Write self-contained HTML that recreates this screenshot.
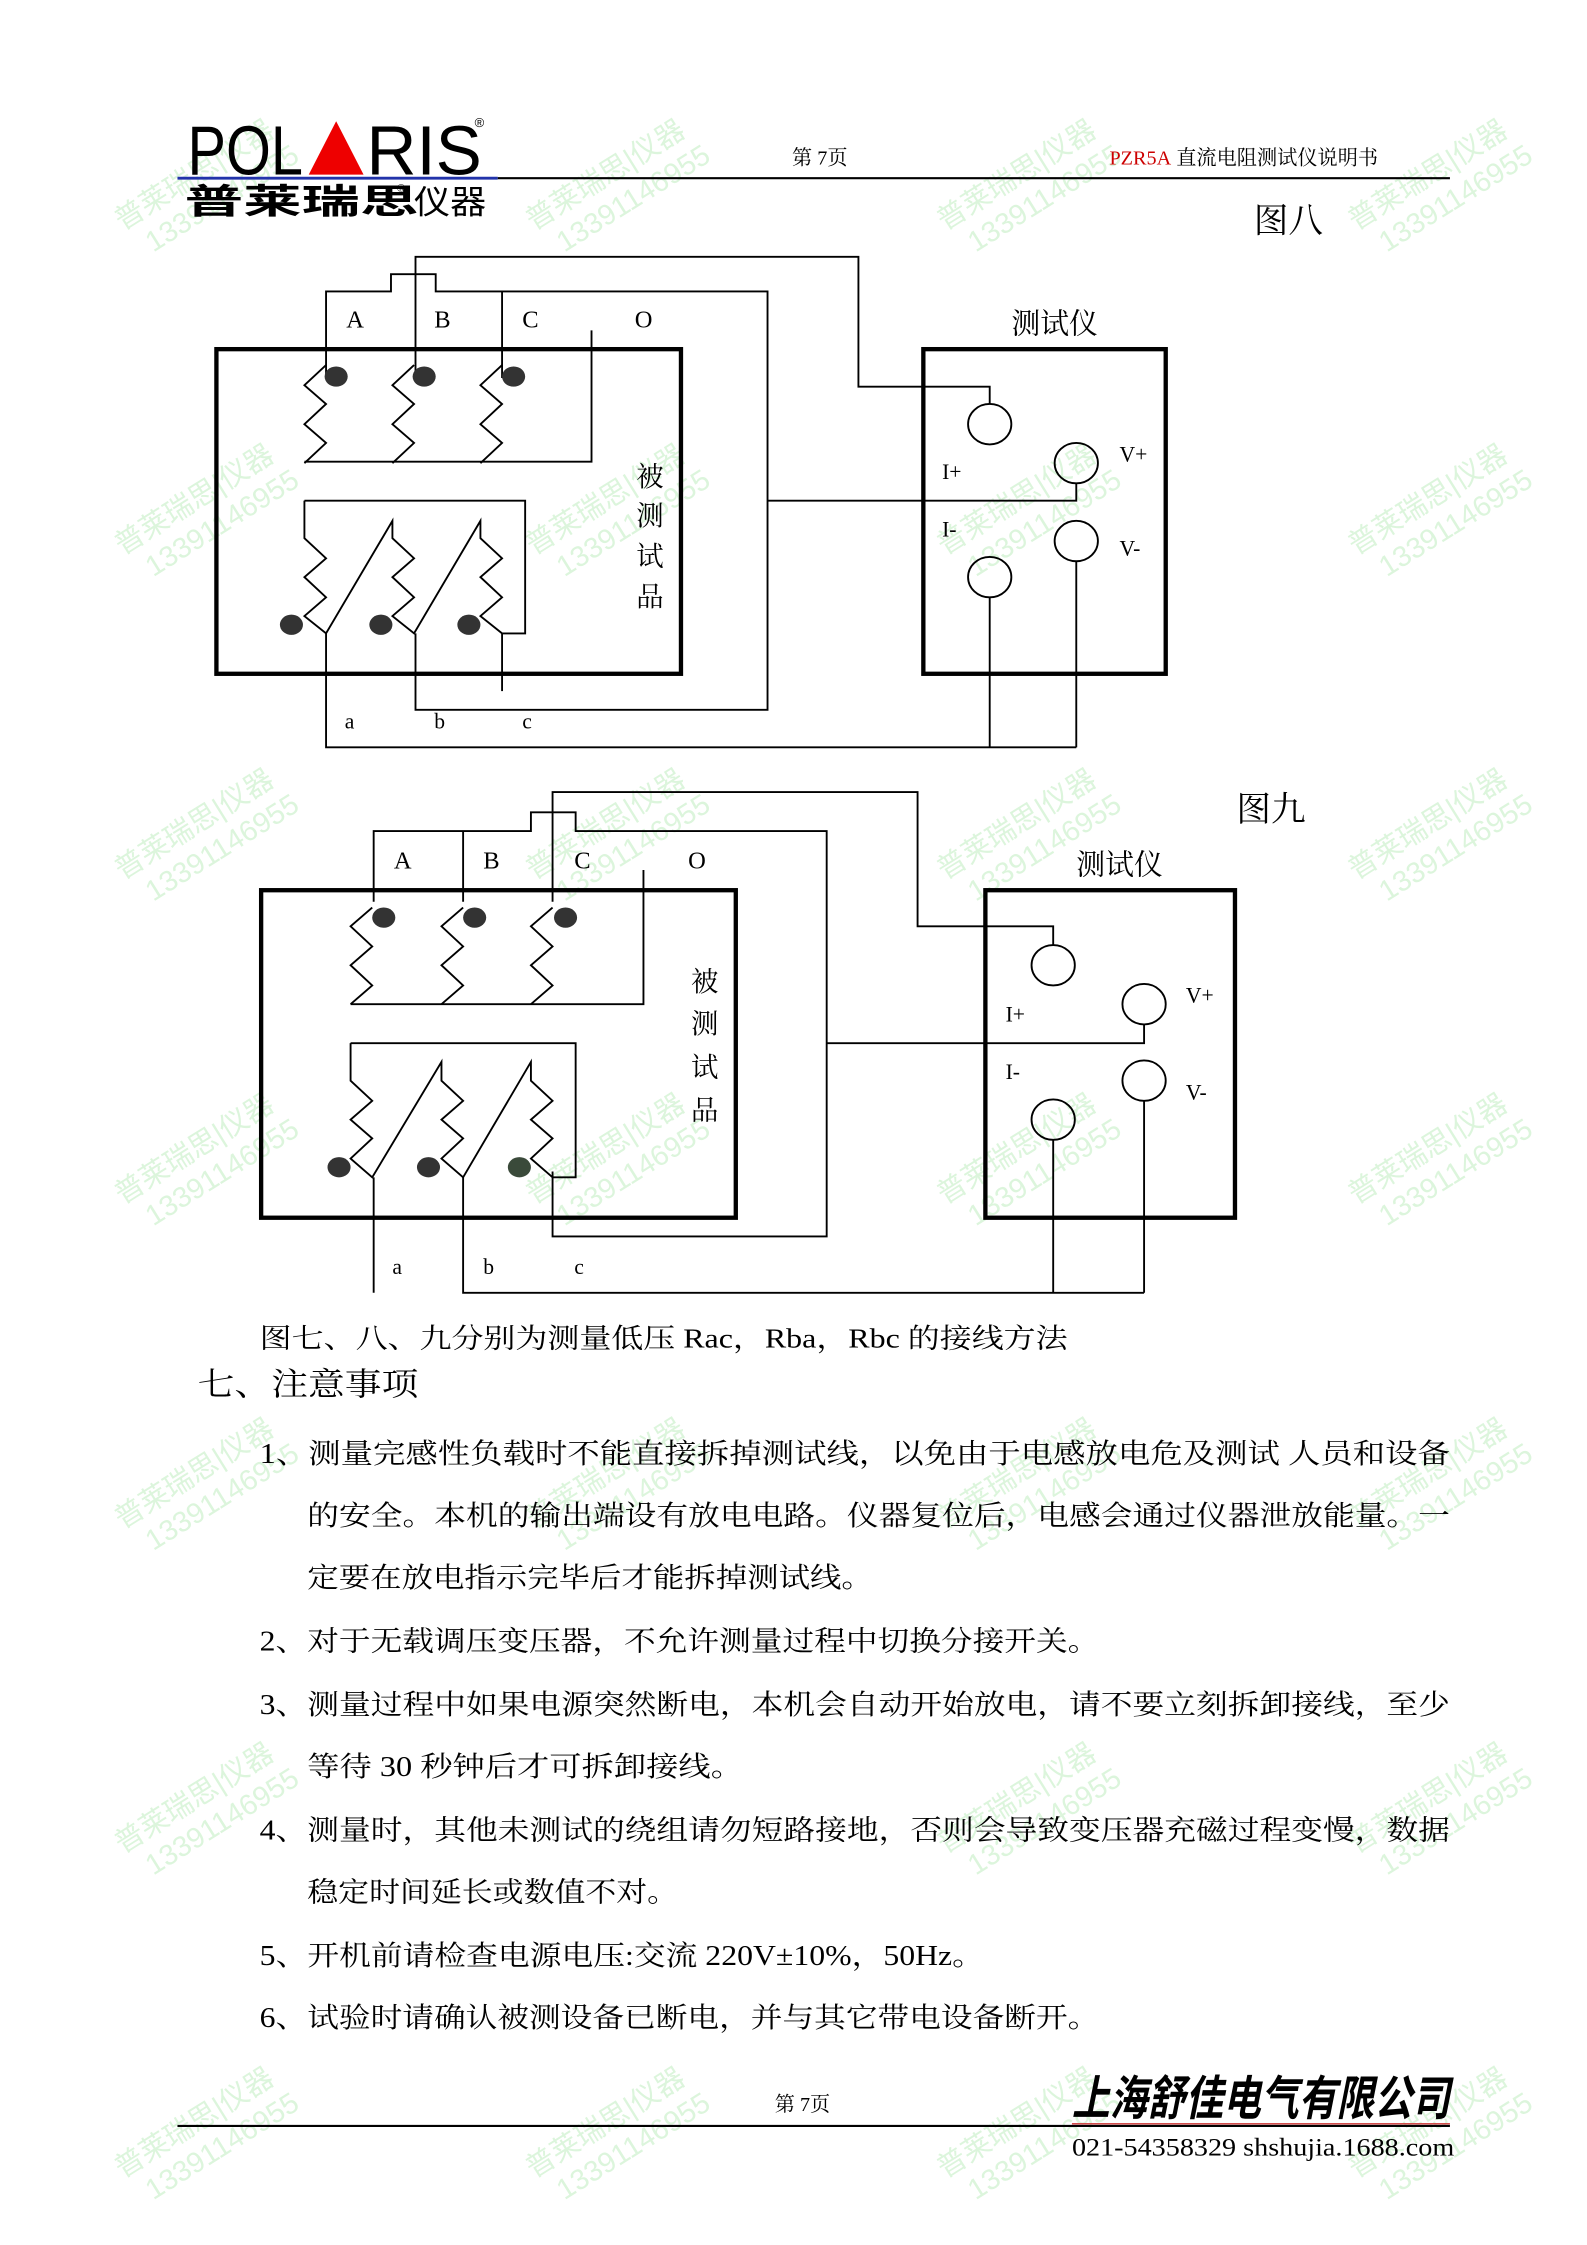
<!DOCTYPE html>
<html><head><meta charset="utf-8"><style>
html,body{margin:0;padding:0;background:#fff;}
svg{display:block;}
text{font-family:"Liberation Serif","Noto Serif CJK SC",serif;fill:#000;}
.w{font-family:"Liberation Sans","Noto Sans CJK SC",sans-serif;fill:#dcf5dc;font-size:20px;}
</style></head><body>
<svg width="1587" height="2245" viewBox="0 0 1100 1556" preserveAspectRatio="none" xmlns="http://www.w3.org/2000/svg">
<rect width="1100" height="1556" fill="#fff"/>
<!-- watermarks -->
<g class="w">
<g transform="translate(85,160) rotate(-32)"><text x="0" y="0" class="w">普莱瑞思|仪器</text><text x="10" y="24" class="w">13391146955</text></g>
<g transform="translate(370,160) rotate(-32)"><text x="0" y="0" class="w">普莱瑞思|仪器</text><text x="10" y="24" class="w">13391146955</text></g>
<g transform="translate(655,160) rotate(-32)"><text x="0" y="0" class="w">普莱瑞思|仪器</text><text x="10" y="24" class="w">13391146955</text></g>
<g transform="translate(940,160) rotate(-32)"><text x="0" y="0" class="w">普莱瑞思|仪器</text><text x="10" y="24" class="w">13391146955</text></g>
<g transform="translate(85,385) rotate(-32)"><text x="0" y="0" class="w">普莱瑞思|仪器</text><text x="10" y="24" class="w">13391146955</text></g>
<g transform="translate(370,385) rotate(-32)"><text x="0" y="0" class="w">普莱瑞思|仪器</text><text x="10" y="24" class="w">13391146955</text></g>
<g transform="translate(655,385) rotate(-32)"><text x="0" y="0" class="w">普莱瑞思|仪器</text><text x="10" y="24" class="w">13391146955</text></g>
<g transform="translate(940,385) rotate(-32)"><text x="0" y="0" class="w">普莱瑞思|仪器</text><text x="10" y="24" class="w">13391146955</text></g>
<g transform="translate(85,610) rotate(-32)"><text x="0" y="0" class="w">普莱瑞思|仪器</text><text x="10" y="24" class="w">13391146955</text></g>
<g transform="translate(370,610) rotate(-32)"><text x="0" y="0" class="w">普莱瑞思|仪器</text><text x="10" y="24" class="w">13391146955</text></g>
<g transform="translate(655,610) rotate(-32)"><text x="0" y="0" class="w">普莱瑞思|仪器</text><text x="10" y="24" class="w">13391146955</text></g>
<g transform="translate(940,610) rotate(-32)"><text x="0" y="0" class="w">普莱瑞思|仪器</text><text x="10" y="24" class="w">13391146955</text></g>
<g transform="translate(85,835) rotate(-32)"><text x="0" y="0" class="w">普莱瑞思|仪器</text><text x="10" y="24" class="w">13391146955</text></g>
<g transform="translate(370,835) rotate(-32)"><text x="0" y="0" class="w">普莱瑞思|仪器</text><text x="10" y="24" class="w">13391146955</text></g>
<g transform="translate(655,835) rotate(-32)"><text x="0" y="0" class="w">普莱瑞思|仪器</text><text x="10" y="24" class="w">13391146955</text></g>
<g transform="translate(940,835) rotate(-32)"><text x="0" y="0" class="w">普莱瑞思|仪器</text><text x="10" y="24" class="w">13391146955</text></g>
<g transform="translate(85,1060) rotate(-32)"><text x="0" y="0" class="w">普莱瑞思|仪器</text><text x="10" y="24" class="w">13391146955</text></g>
<g transform="translate(370,1060) rotate(-32)"><text x="0" y="0" class="w">普莱瑞思|仪器</text><text x="10" y="24" class="w">13391146955</text></g>
<g transform="translate(655,1060) rotate(-32)"><text x="0" y="0" class="w">普莱瑞思|仪器</text><text x="10" y="24" class="w">13391146955</text></g>
<g transform="translate(940,1060) rotate(-32)"><text x="0" y="0" class="w">普莱瑞思|仪器</text><text x="10" y="24" class="w">13391146955</text></g>
<g transform="translate(85,1285) rotate(-32)"><text x="0" y="0" class="w">普莱瑞思|仪器</text><text x="10" y="24" class="w">13391146955</text></g>
<g transform="translate(655,1285) rotate(-32)"><text x="0" y="0" class="w">普莱瑞思|仪器</text><text x="10" y="24" class="w">13391146955</text></g>
<g transform="translate(940,1285) rotate(-32)"><text x="0" y="0" class="w">普莱瑞思|仪器</text><text x="10" y="24" class="w">13391146955</text></g>
<g transform="translate(85,1510) rotate(-32)"><text x="0" y="0" class="w">普莱瑞思|仪器</text><text x="10" y="24" class="w">13391146955</text></g>
<g transform="translate(370,1510) rotate(-32)"><text x="0" y="0" class="w">普莱瑞思|仪器</text><text x="10" y="24" class="w">13391146955</text></g>
<g transform="translate(655,1510) rotate(-32)"><text x="0" y="0" class="w">普莱瑞思|仪器</text><text x="10" y="24" class="w">13391146955</text></g>
<g transform="translate(940,1510) rotate(-32)"><text x="0" y="0" class="w">普莱瑞思|仪器</text><text x="10" y="24" class="w">13391146955</text></g>
</g>

<!-- header -->
<text x="130" y="121" font-family="Liberation Sans Narrow, Liberation Sans, sans-serif" font-size="48" textLength="80" lengthAdjust="spacingAndGlyphs" style="font-family:'Liberation Sans Narrow','Liberation Sans',sans-serif">POL</text>
<polygon points="214,121 233,84 252,121" fill="#e00"/>
<text x="254" y="121" font-size="48" textLength="80" lengthAdjust="spacingAndGlyphs" style="font-family:'Liberation Sans Narrow','Liberation Sans',sans-serif">RIS</text>
<text x="329" y="88" font-size="9" style="font-family:'Liberation Sans',sans-serif">®</text>
<line x1="123" y1="123.5" x2="345" y2="123.5" stroke="#2233aa" stroke-width="2"/>
<text x="128" y="148" font-size="24" font-weight="bold" textLength="162" lengthAdjust="spacingAndGlyphs" style="font-family:'Noto Sans CJK SC',sans-serif">普莱瑞思</text>
<text x="275" y="133" font-size="8">®</text>
<text x="287" y="148" font-size="23" textLength="50" lengthAdjust="spacingAndGlyphs" style="font-family:'Noto Sans CJK SC',sans-serif">仪器</text>
<line x1="345" y1="123.5" x2="1005" y2="123.5" stroke="#000" stroke-width="1.5"/>
<text x="549" y="114" font-size="14">第 7页</text>
<text x="769" y="114" font-size="14"><tspan fill="#c00" style="fill:#c00">PZR5A</tspan> 直流电阻测试仪说明书</text>

<!-- Figure 8 -->
<text x="869" y="161" font-size="24">图八</text>
<g fill="none" stroke="#000" stroke-width="1.3">
<rect x="150" y="242" width="322" height="225" stroke-width="3"/>
<polyline points="288,262 288,178 595,178 595,268 686,268 686,280"/>
<polyline points="226,262 226,202 271,202 271,190 302,190 302,202 532,202 532,492 288,492 288,439"/>
<line x1="348" y1="202" x2="348" y2="262"/>
<polyline points="410,229 410,320 211,320"/>
<polyline points="226,253 211,267 226,280 211,294 226,307 211,321"/>
<polyline points="287,253 272,267 287,280 272,294 287,307 272,321"/>
<polyline points="348,253 333,267 348,280 333,294 348,307 333,321"/>
<polyline points="211,347 364,347 364,439 348,439"/>
<polyline points="211,347 211,373 226,387 211,400 226,414 211,427 226,439 272,361 272,373 287,387 272,400 287,414 272,427 287,439 333,361 333,373 348,387 333,400 348,414 333,427 348,439"/>
<polyline points="226,439 226,518 746,518"/>
<line x1="348" y1="439" x2="348" y2="479"/>
<polyline points="532,347 746,347 746,335"/>
<rect x="640" y="242" width="168" height="225" stroke-width="3"/>
<ellipse cx="686" cy="294" rx="15" ry="14"/>
<ellipse cx="746" cy="321" rx="15" ry="14"/>
<ellipse cx="746" cy="375" rx="15" ry="14"/>
<ellipse cx="686" cy="400" rx="15" ry="14"/>
<line x1="746" y1="389" x2="746" y2="518"/>
<line x1="686" y1="414" x2="686" y2="518"/>
</g>
<g fill="#333">
<ellipse cx="233" cy="261" rx="8" ry="7"/><ellipse cx="294" cy="261" rx="8" ry="7"/><ellipse cx="356" cy="261" rx="8" ry="7"/>
<ellipse cx="202" cy="433" rx="8" ry="7"/><ellipse cx="264" cy="433" rx="8" ry="7"/><ellipse cx="325" cy="433" rx="8" ry="7"/>
</g>
<g font-size="17">
<text x="240" y="227">A</text><text x="301" y="227">B</text><text x="362" y="227">C</text><text x="440" y="227">O</text>
<text x="239" y="505" font-size="15">a</text><text x="301" y="505" font-size="15">b</text><text x="362" y="505" font-size="15">c</text>
<text x="441" y="337" font-size="19">被</text><text x="441" y="364" font-size="19">测</text><text x="441" y="392" font-size="19">试</text><text x="441" y="420" font-size="19">品</text>
<text x="701" y="231" font-size="20">测试仪</text>
<text x="653" y="332" font-size="15">I+</text><text x="776" y="320" font-size="15">V+</text>
<text x="653" y="372" font-size="15">I-</text><text x="776" y="385" font-size="15">V-</text>
</g>

<!-- Figure 9 -->
<text x="857" y="569" font-size="24">图九</text>
<g fill="none" stroke="#000" stroke-width="1.3">
<rect x="181" y="617" width="329" height="227" stroke-width="3"/>
<polyline points="383,625 383,549 636,549 636,642 730,642 730,655"/>
<polyline points="259,625 259,576 368,576 368,563 399,563 399,576 573,576 573,857 383,857 383,812"/>
<line x1="321" y1="576" x2="321" y2="625"/>
<polyline points="446,603 446,696 243,696"/>
<polyline points="258,629 243,642 258,656 243,669 258,683 243,696"/>
<polyline points="321,629 306,642 321,656 306,669 321,683 306,696"/>
<polyline points="383,629 368,642 383,656 368,669 383,683 368,696"/>
<polyline points="243,723 399,723 399,816 383,816"/>
<polyline points="243,723 243,749 258,763 243,776 258,789 243,803 258,816 306,736 306,749 321,763 306,776 321,789 306,803 321,816 368,736 368,749 383,763 368,776 383,789 368,803 383,816"/>
<line x1="259" y1="816" x2="259" y2="896"/>
<polyline points="321,816 321,896 793,896"/>
<polyline points="573,723 793,723 793,710"/>
<rect x="683" y="617" width="173" height="227" stroke-width="3"/>
<ellipse cx="730" cy="669" rx="15" ry="14"/>
<ellipse cx="793" cy="696" rx="15" ry="14"/>
<ellipse cx="793" cy="749" rx="15" ry="14"/>
<ellipse cx="730" cy="776" rx="15" ry="14"/>
<line x1="793" y1="763" x2="793" y2="896"/>
<line x1="730" y1="790" x2="730" y2="896"/>
</g>
<g fill="#333">
<ellipse cx="266" cy="636" rx="8" ry="7"/><ellipse cx="329" cy="636" rx="8" ry="7"/><ellipse cx="392" cy="636" rx="8" ry="7"/>
<ellipse cx="235" cy="809" rx="8" ry="7"/><ellipse cx="297" cy="809" rx="8" ry="7"/><ellipse cx="360" cy="809" rx="8" ry="7" fill="#3a4a3a"/>
</g>
<g font-size="17">
<text x="273" y="602">A</text><text x="335" y="602">B</text><text x="398" y="602">C</text><text x="477" y="602">O</text>
<text x="272" y="883" font-size="15">a</text><text x="335" y="883" font-size="15">b</text><text x="398" y="883" font-size="15">c</text>
<text x="479" y="687" font-size="19">被</text><text x="479" y="716" font-size="19">测</text><text x="479" y="746" font-size="19">试</text><text x="479" y="776" font-size="19">品</text>
<text x="746" y="606" font-size="20">测试仪</text>
<text x="697" y="708" font-size="15">I+</text><text x="822" y="695" font-size="15">V+</text>
<text x="697" y="748" font-size="15">I-</text><text x="822" y="762" font-size="15">V-</text>
</g>

<!-- text -->
<text x="180" y="934" font-size="19" textLength="560" lengthAdjust="spacingAndGlyphs">图七、八、九分别为测量低压 Rac，Rba，Rbc 的接线方法</text>
<text x="137" y="967" font-size="22" textLength="153" lengthAdjust="spacingAndGlyphs">七、注意事项</text>
<g font-size="19.5">
<text x="180" y="1014" textLength="825" lengthAdjust="spacingAndGlyphs">1、测量完感性负载时不能直接拆掉测试线，以免由于电感放电危及测试 人员和设备</text>
<text x="213" y="1057" textLength="792" lengthAdjust="spacingAndGlyphs">的安全。本机的输出端设有放电电路。仪器复位后，电感会通过仪器泄放能量。一</text>
<text x="213" y="1100" textLength="392" lengthAdjust="spacingAndGlyphs">定要在放电指示完毕后才能拆掉测试线。</text>
<text x="180" y="1144" textLength="582" lengthAdjust="spacingAndGlyphs">2、对于无载调压变压器，不允许测量过程中切换分接开关。</text>
<text x="180" y="1188" textLength="825" lengthAdjust="spacingAndGlyphs">3、测量过程中如果电源突然断电，本机会自动开始放电，请不要立刻拆卸接线，至少</text>
<text x="213" y="1231" textLength="302" lengthAdjust="spacingAndGlyphs">等待 30 秒钟后才可拆卸接线。</text>
<text x="180" y="1275" textLength="825" lengthAdjust="spacingAndGlyphs">4、测量时，其他未测试的绕组请勿短路接地，否则会导致变压器充磁过程变慢，数据</text>
<text x="213" y="1318" textLength="257" lengthAdjust="spacingAndGlyphs">稳定时间延长或数值不对。</text>
<text x="180" y="1362" textLength="502" lengthAdjust="spacingAndGlyphs">5、开机前请检查电源电压:交流 220V±10%，50Hz。</text>
<text x="180" y="1405" textLength="582" lengthAdjust="spacingAndGlyphs">6、试验时请确认被测设备已断电，并与其它带电设备断开。</text>
</g>

<!-- footer -->
<text x="537" y="1463" font-size="14">第 7页</text>
<text x="743" y="1466" font-size="33" font-weight="bold" font-style="italic" textLength="262" lengthAdjust="spacingAndGlyphs" style="font-family:'Noto Sans CJK SC',sans-serif">上海舒佳电气有限公司</text>
<line x1="123" y1="1473.5" x2="1005" y2="1473.5" stroke="#000" stroke-width="1.5"/>
<line x1="743" y1="1472" x2="1005" y2="1472" stroke="#c33" stroke-width="1"/>
<text x="743" y="1494" font-size="17.5" textLength="265" lengthAdjust="spacingAndGlyphs">021-54358329 shshujia.1688.com</text>
</svg>
</body></html>
